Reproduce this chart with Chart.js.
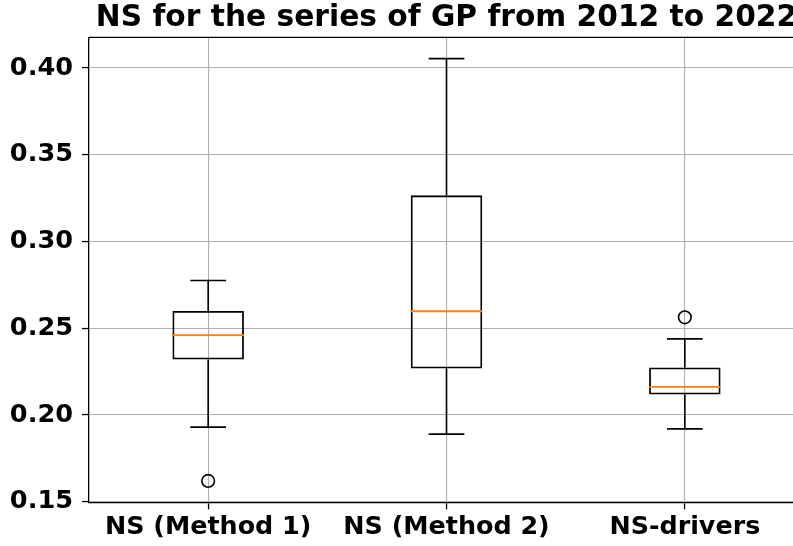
<!DOCTYPE html>
<html>
<head>
<meta charset="utf-8">
<script src="https://cdn.jsdelivr.net/npm/chart.js@4"></script>
<style>
  html, body { margin: 0; padding: 0; background: #ffffff; overflow: hidden; }
  #wrap { position: absolute; left: 0; top: 0; width: 830px; height: 546px; }
</style>
</head>
<body>
<div id="wrap"><canvas id="c" width="830" height="546" style="width:830px;height:546px"></canvas></div>
<script>
const titleText = 'NS for the series of GP from 2012 to 2022';
const categories = ['NS (Method 1)', 'NS (Method 2)', 'NS-drivers'];
const whiskerLow = [0.193, 0.189, 0.192];
const q1 = [0.232, 0.2268, 0.2118];
const median = [0.246, 0.2598, 0.2162];
const q3 = [0.260, 0.3266, 0.2274];
const whiskerHigh = [0.2775, 0.4054, 0.2439];
const outliers = [0.162, null, 0.2563];
const yTickValues = [0.15, 0.20, 0.25, 0.30, 0.35, 0.40];

const FONT = '"DejaVu Sans", sans-serif';

const boxPlugin = {
  id: 'boxExtras',
  afterDatasetsDraw(chart) {
    const ctx = chart.ctx;
    const xs = chart.scales.x, ys = chart.scales.y;
    const meta = chart.getDatasetMeta(0);
    ctx.save();
    ctx.lineCap = 'butt';
    categories.forEach((c, i) => {
      const x = xs.getPixelForValue(i);
      const w = meta.data[i].width;
      const cap = w / 2;
      ctx.strokeStyle = '#000000';
      ctx.lineWidth = 1.6;
      ctx.beginPath();
      ctx.moveTo(x, ys.getPixelForValue(q3[i]));
      ctx.lineTo(x, ys.getPixelForValue(whiskerHigh[i]));
      ctx.moveTo(x, ys.getPixelForValue(q1[i]));
      ctx.lineTo(x, ys.getPixelForValue(whiskerLow[i]));
      ctx.moveTo(x - cap / 2, ys.getPixelForValue(whiskerHigh[i]));
      ctx.lineTo(x + cap / 2, ys.getPixelForValue(whiskerHigh[i]));
      ctx.moveTo(x - cap / 2, ys.getPixelForValue(whiskerLow[i]));
      ctx.lineTo(x + cap / 2, ys.getPixelForValue(whiskerLow[i]));
      ctx.stroke();
      ctx.strokeStyle = '#ff7f0e';
      ctx.lineWidth = 1.8;
      ctx.beginPath();
      ctx.moveTo(x - w / 2, ys.getPixelForValue(median[i]));
      ctx.lineTo(x + w / 2, ys.getPixelForValue(median[i]));
      ctx.stroke();
    });
    ctx.restore();
  },
  afterDraw(chart) {
    const ctx = chart.ctx;
    const a = chart.chartArea;
    ctx.save();
    ctx.strokeStyle = '#000000';
    ctx.lineWidth = 1.3;
    ctx.beginPath();
    ctx.moveTo(a.left, a.top);
    ctx.lineTo(a.right, a.top);
    ctx.lineTo(a.right, a.bottom);
    ctx.stroke();
    ctx.fillStyle = '#000000';
    ctx.font = 'bold 29.7px ' + FONT;
    ctx.textAlign = 'center';
    ctx.textBaseline = 'alphabetic';
    ctx.fillText(titleText, (a.left + a.right) / 2, 25.7);
    ctx.restore();
  }
};

new Chart(document.getElementById('c'), {
  data: {
    labels: categories,
    datasets: [
      {
        type: 'bar',
        data: categories.map((c, i) => [q1[i], q3[i]]),
        backgroundColor: 'rgba(0,0,0,0)',
        borderColor: '#000000',
        borderWidth: 1.8,
        borderSkipped: false,
        barPercentage: 0.3,
        categoryPercentage: 1.0
      },
      {
        type: 'line',
        data: outliers,
        showLine: false,
        pointStyle: 'circle',
        pointRadius: 6.3,
        pointBorderColor: '#000000',
        pointBackgroundColor: 'rgba(0,0,0,0)',
        pointBorderWidth: 1.6
      }
    ]
  },
  options: {
    responsive: false,
    animation: false,
    devicePixelRatio: 1,
    layout: { padding: { top: 37.3, right: 26, left: 0, bottom: 0 } },
    plugins: { legend: { display: false }, tooltip: { enabled: false }, title: { display: false } },
    scales: {
      x: {
        type: 'category',
        offset: true,
        grid: { offset: false, color: '#b0b0b0', lineWidth: 1.1, tickColor: '#000000', tickLength: 7, tickWidth: 1.3 },
        border: { color: '#000000', width: 1.3 },
        ticks: { color: '#000000', font: { family: FONT, weight: 'bold', size: 25.4 }, padding: 3, maxRotation: 0 },
        afterFit(s) { s.height = 43.7; }
      },
      y: {
        type: 'linear',
        min: 0.1497,
        max: 0.4177,
        afterBuildTicks(s) { s.ticks = yTickValues.map(v => ({ value: v })); },
        grid: { color: '#b0b0b0', lineWidth: 1.1, tickColor: '#000000', tickLength: 7, tickWidth: 1.3 },
        border: { color: '#000000', width: 1.3 },
        ticks: { color: '#000000', font: { family: FONT, weight: 'bold', size: 25.6 }, padding: 9, callback: v => Number(v).toFixed(2) },
        afterFit(s) { s.width = 89; }
      }
    }
  },
  plugins: [boxPlugin]
});
</script>
</body>
</html>
